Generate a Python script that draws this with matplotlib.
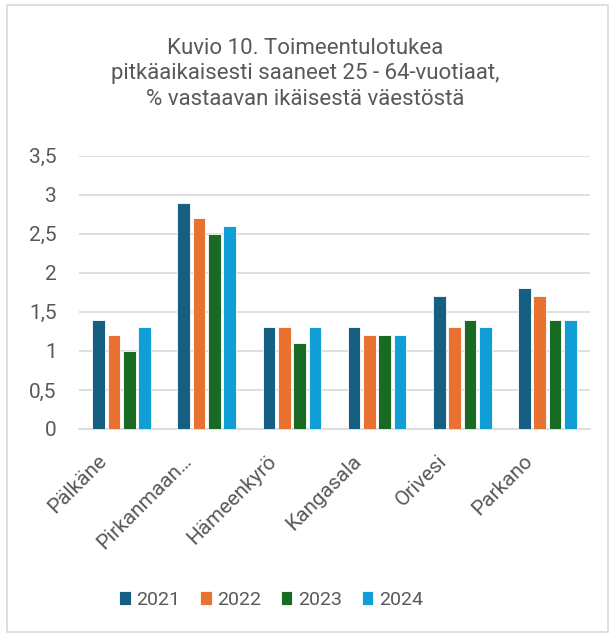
import matplotlib.pyplot as plt
import numpy as np
from matplotlib.patches import Rectangle
from matplotlib.transforms import ScaledTranslation

kunnat = ["Pälkäne", "Pirkanmaan…", "Hämeenkyrö", "Kangasala", "Orivesi", "Parkano"]
vuodet = ["2021", "2022", "2023", "2024"]
v2021 = [1.4, 2.9, 1.3, 1.3, 1.7, 1.8]
v2022 = [1.2, 2.7, 1.3, 1.2, 1.3, 1.7]
v2023 = [1.0, 2.5, 1.1, 1.2, 1.4, 1.4]
v2024 = [1.3, 2.6, 1.3, 1.2, 1.3, 1.4]
arvot = [v2021, v2022, v2023, v2024]

varit = ["#156082", "#E97132", "#196B24", "#0F9ED5"]
teksti = "#595959"

plt.rcParams['font.family'] = ['Roboto', 'DejaVu Sans']

fig = plt.figure(figsize=(6.11, 6.34), dpi=100)
ax = fig.add_axes([79 / 611, 1 - 429 / 634, 511 / 611, (429 - 155.7) / 634])

# reunus
fig.patches.append(Rectangle((7 / 611, 2 / 634), 601 / 611, 627 / 634,
                             transform=fig.transFigure, fill=False,
                             edgecolor="#D9D9D9", linewidth=1.2))

x = np.arange(len(kunnat))
askel = 0.18
leveys = 0.15
for i, (vuosi, data) in enumerate(zip(vuodet, arvot)):
    ax.bar(x + (i - 1.5) * askel, data, leveys, color=varit[i], label=vuosi,
           edgecolor="white", linewidth=0.6, zorder=3)

ax.set_xlim(-0.5, len(kunnat) - 0.5)
ax.set_ylim(0, 3.5)
ax.set_yticks(np.arange(0, 3.51, 0.5))
ax.set_yticklabels(["0", "0,5", "1", "1,5", "2", "2,5", "3", "3,5"])
ax.grid(axis='y', color="#D9D9D9", linewidth=1.2, zorder=0)
for s in ["top", "right", "left"]:
    ax.spines[s].set_visible(False)
ax.spines["bottom"].set_color("#D9D9D9")
ax.spines["bottom"].set_linewidth(1.2)
ax.tick_params(axis='both', length=0, colors=teksti, labelsize=15)
ax.tick_params(axis='y', pad=16)
ax.set_xticks(x)
ax.set_xticklabels(kunnat, rotation=45, ha='right', va='center', rotation_mode='anchor')
ax.tick_params(axis='x', pad=21)
siirto = ScaledTranslation(-13 / 72, 0, fig.dpi_scale_trans)
for lbl in ax.get_xticklabels():
    lbl.set_transform(lbl.get_transform() + siirto)

fig.text(0.5, 1 - 74 / 634, "Kuvio 10. Toimeentulotukea\npitkäaikaisesti saaneet 25 - 64-vuotiaat,\n% vastaavan ikäisestä väestöstä",
         ha='center', va='center', fontsize=16, color=teksti, linespacing=1.3)

fig.legend(loc='center', bbox_to_anchor=(271 / 611, 1 - 600 / 634), ncol=4,
           frameon=False, fontsize=14, labelcolor=teksti, handlelength=0.6,
           handleheight=0.7, handletextpad=0.3, columnspacing=1.0)

plt.savefig("out.png", dpi=100)
